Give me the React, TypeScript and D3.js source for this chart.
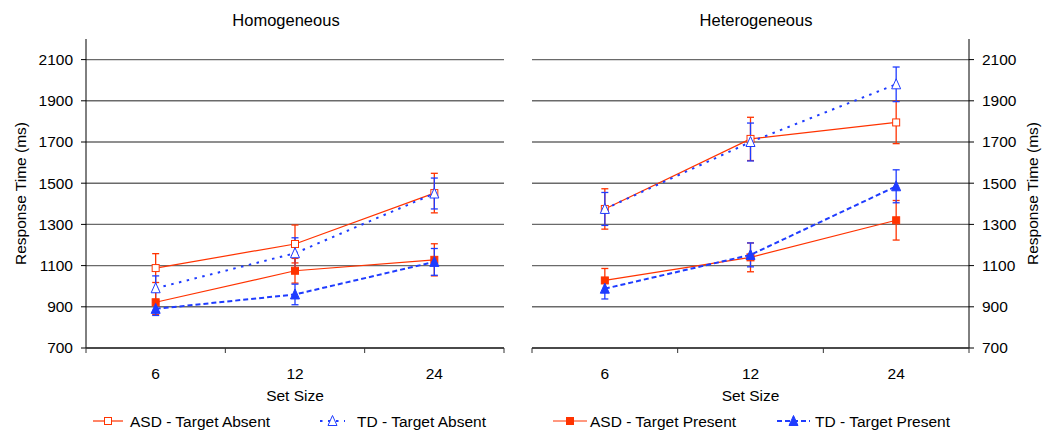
import * as d3 from "d3";

// set sizes on the x axis
const setSizes = ["6", "12", "24"];
const yTicks = [700, 900, 1100, 1300, 1500, 1700, 1900, 2100];

// Homogeneous panel: means and error bar half-widths
const asdAbsentHom = [1088, 1205, 1452];
const asdAbsentHomErr = [70, 92, 96];
const tdAbsentHom = [990, 1160, 1450];
const tdAbsentHomErr = [60, 75, 75];
const asdPresentHom = [922, 1075, 1128];
const asdPresentHomErr = [60, 60, 78];
const tdPresentHom = [890, 960, 1118];
const tdPresentHomErr = [32, 50, 65];

// Heterogeneous panel
const asdAbsentHet = [1375, 1715, 1795];
const asdAbsentHetErr = [98, 105, 103];
const tdAbsentHet = [1375, 1700, 1980];
const tdAbsentHetErr = [80, 92, 84];
const asdPresentHet = [1028, 1140, 1320];
const asdPresentHetErr = [58, 70, 96];
const tdPresentHet = [988, 1152, 1485];
const tdPresentHetErr = [50, 58, 80];

const RED = "#ff3300";
const BLUE = "#1f3cff";
const FONT = "'Liberation Sans', Arial, sans-serif";
const FS = 15.5;

type Series = {
  name: string;
  values: number[];
  err: number[];
  color: string;
  dash: string | null;
  width: number;
  marker: "square" | "triangle";
  filled: boolean;
};

const styleOf = {
  asdAbsent: { name: "ASD - Target Absent", color: RED, dash: null, width: 1.2, marker: "square", filled: false },
  tdAbsent: { name: "TD - Target Absent", color: BLUE, dash: "2.5,5.5", width: 2, marker: "triangle", filled: false },
  asdPresent: { name: "ASD - Target Present", color: RED, dash: null, width: 1.2, marker: "square", filled: true },
  tdPresent: { name: "TD - Target Present", color: BLUE, dash: "5,3", width: 2, marker: "triangle", filled: true },
} as const;

const homSeries: Series[] = [
  { ...styleOf.asdAbsent, values: asdAbsentHom, err: asdAbsentHomErr },
  { ...styleOf.tdAbsent, values: tdAbsentHom, err: tdAbsentHomErr },
  { ...styleOf.asdPresent, values: asdPresentHom, err: asdPresentHomErr },
  { ...styleOf.tdPresent, values: tdPresentHom, err: tdPresentHomErr },
] as Series[];

const hetSeries: Series[] = [
  { ...styleOf.asdAbsent, values: asdAbsentHet, err: asdAbsentHetErr },
  { ...styleOf.tdAbsent, values: tdAbsentHet, err: tdAbsentHetErr },
  { ...styleOf.asdPresent, values: asdPresentHet, err: asdPresentHetErr },
  { ...styleOf.tdPresent, values: tdPresentHet, err: tdPresentHetErr },
] as Series[];

const y = d3.scaleLinear().domain([700, 2200]).range([348, 39]);

function Marker({ kind, filled, color, cx, cy }: { kind: string; filled: boolean; color: string; cx: number; cy: number }) {
  if (kind === "square") {
    const s = 7;
    return (
      <rect x={cx - s / 2} y={cy - s / 2} width={s} height={s}
        fill={filled ? color : "white"} stroke={color} strokeWidth={1} />
    );
  }
  const h = 9;
  const pts = `${cx},${cy - h / 2 - 1} ${cx - 4.5},${cy + h / 2} ${cx + 4.5},${cy + h / 2}`;
  return <polygon points={pts} fill={filled ? color : "white"} stroke={color} strokeWidth={1} />;
}

function Panel({ title, titleX, left, right, series, axisSide }: { title: string; titleX: number; left: number; right: number; series: Series[]; axisSide: "left" | "right" }) {
  const x = d3.scaleBand().domain(setSizes).range([left, right]).padding(0);
  const cx = (d: string) => (x(d) ?? 0) + x.bandwidth() / 2;
  const line = d3.line<number>().x((_, i) => cx(setSizes[i])).y((v) => y(v));
  const axisX = axisSide === "left" ? left : right;
  const bounds = [...setSizes.map((d) => x(d) ?? 0), right];
  const mid = (left + right) / 2;

  return (
    <g>
      <text x={titleX} y={26} textAnchor="middle" fontSize={16.5} fontFamily={FONT}>{title}</text>
      {yTicks.map((t) => (
        <line key={t} x1={left} x2={right} y1={y(t)} y2={y(t)} stroke="#6a6a6a" strokeWidth={1.4} />
      ))}
      {/* y axis */}
      <line x1={axisX} x2={axisX} y1={y(2200)} y2={y(700)} stroke="#000" strokeWidth={1} />
      {yTicks.map((t) => (
        <g key={"t" + t}>
          <line x1={axisSide === "left" ? axisX - 5 : axisX} x2={axisSide === "left" ? axisX : axisX + 5}
            y1={y(t)} y2={y(t)} stroke="#000" />
          <text x={axisSide === "left" ? axisX - 13 : axisX + 13} y={y(t)} dy="0.35em"
            textAnchor={axisSide === "left" ? "end" : "start"} fontSize={FS} fontFamily={FONT}>{t}</text>
        </g>
      ))}
      {/* x axis */}
      <line x1={left} x2={right} y1={y(700)} y2={y(700)} stroke="#333" strokeWidth={1.4} />
      {bounds.map((b, i) => (
        <line key={"b" + i} x1={b} x2={b} y1={y(700)} y2={y(700) + 5} stroke="#333" />
      ))}
      {setSizes.map((d) => (
        <text key={d} x={cx(d)} y={379} textAnchor="middle" fontSize={FS} fontFamily={FONT}>{d}</text>
      ))}
      <text x={mid} y={401} textAnchor="middle" fontSize={FS} fontFamily={FONT}>Set Size</text>
      {/* error bars */}
      {series.map((s, si) =>
        s.values.map((v, i) => {
          const px = cx(setSizes[i]);
          return (
            <g key={`e${si}-${i}`} stroke={s.color} strokeWidth={1.3}>
              <line x1={px} x2={px} y1={y(v + s.err[i])} y2={y(v - s.err[i])} />
              <line x1={px - 3.5} x2={px + 3.5} y1={y(v + s.err[i])} y2={y(v + s.err[i])} />
              <line x1={px - 3.5} x2={px + 3.5} y1={y(v - s.err[i])} y2={y(v - s.err[i])} />
            </g>
          );
        })
      )}
      {/* lines and markers */}
      {series.map((s, si) => (
        <g key={"s" + si}>
          <path d={line(s.values) ?? ""} fill="none" stroke={s.color} strokeWidth={s.width}
            strokeDasharray={s.dash ?? undefined} />
          {s.values.map((v, i) => (
            <Marker key={i} kind={s.marker} filled={s.filled} color={s.color} cx={cx(setSizes[i])} cy={y(v)} />
          ))}
        </g>
      ))}
    </g>
  );
}

function LegendItem({ s, x1, x2, tx }: { s: Series; x1: number; x2: number; tx: number }) {
  const ly = 421;
  return (
    <g>
      <line x1={x1} x2={x2} y1={ly} y2={ly} stroke={s.color} strokeWidth={s.width}
        strokeDasharray={s.dash ?? undefined} />
      <Marker kind={s.marker} filled={s.filled} color={s.color} cx={(x1 + x2) / 2} cy={ly} />
      <text x={tx} y={427} fontSize={FS} fontFamily={FONT}>{s.name}</text>
    </g>
  );
}

export default function App() {
  const yMid = (y(700) + y(2200)) / 2;
  return (
    <div style={{ position: "absolute", left: 0, top: 0 }}>
      <svg width={1044} height={433} style={{ display: "block", background: "white" }}>
        <text transform={`translate(26,${yMid}) rotate(-90)`} textAnchor="middle"
          fontSize={FS} fontFamily={FONT}>Response Time (ms)</text>
        <text transform={`translate(1038,${yMid}) rotate(-90)`} textAnchor="middle"
          fontSize={FS} fontFamily={FONT}>Response Time (ms)</text>
        <Panel title="Homogeneous" titleX={286} left={86} right={504} series={homSeries} axisSide="left" />
        <Panel title="Heterogeneous" titleX={756} left={532} right={969} series={hetSeries} axisSide="right" />
        <LegendItem s={homSeries[0]} x1={93} x2={123} tx={130} />
        <LegendItem s={homSeries[1]} x1={320} x2={345} tx={357} />
        <LegendItem s={homSeries[2]} x1={553} x2={587} tx={590} />
        <LegendItem s={homSeries[3]} x1={777} x2={810} tx={815} />
      </svg>
    </div>
  );
}
